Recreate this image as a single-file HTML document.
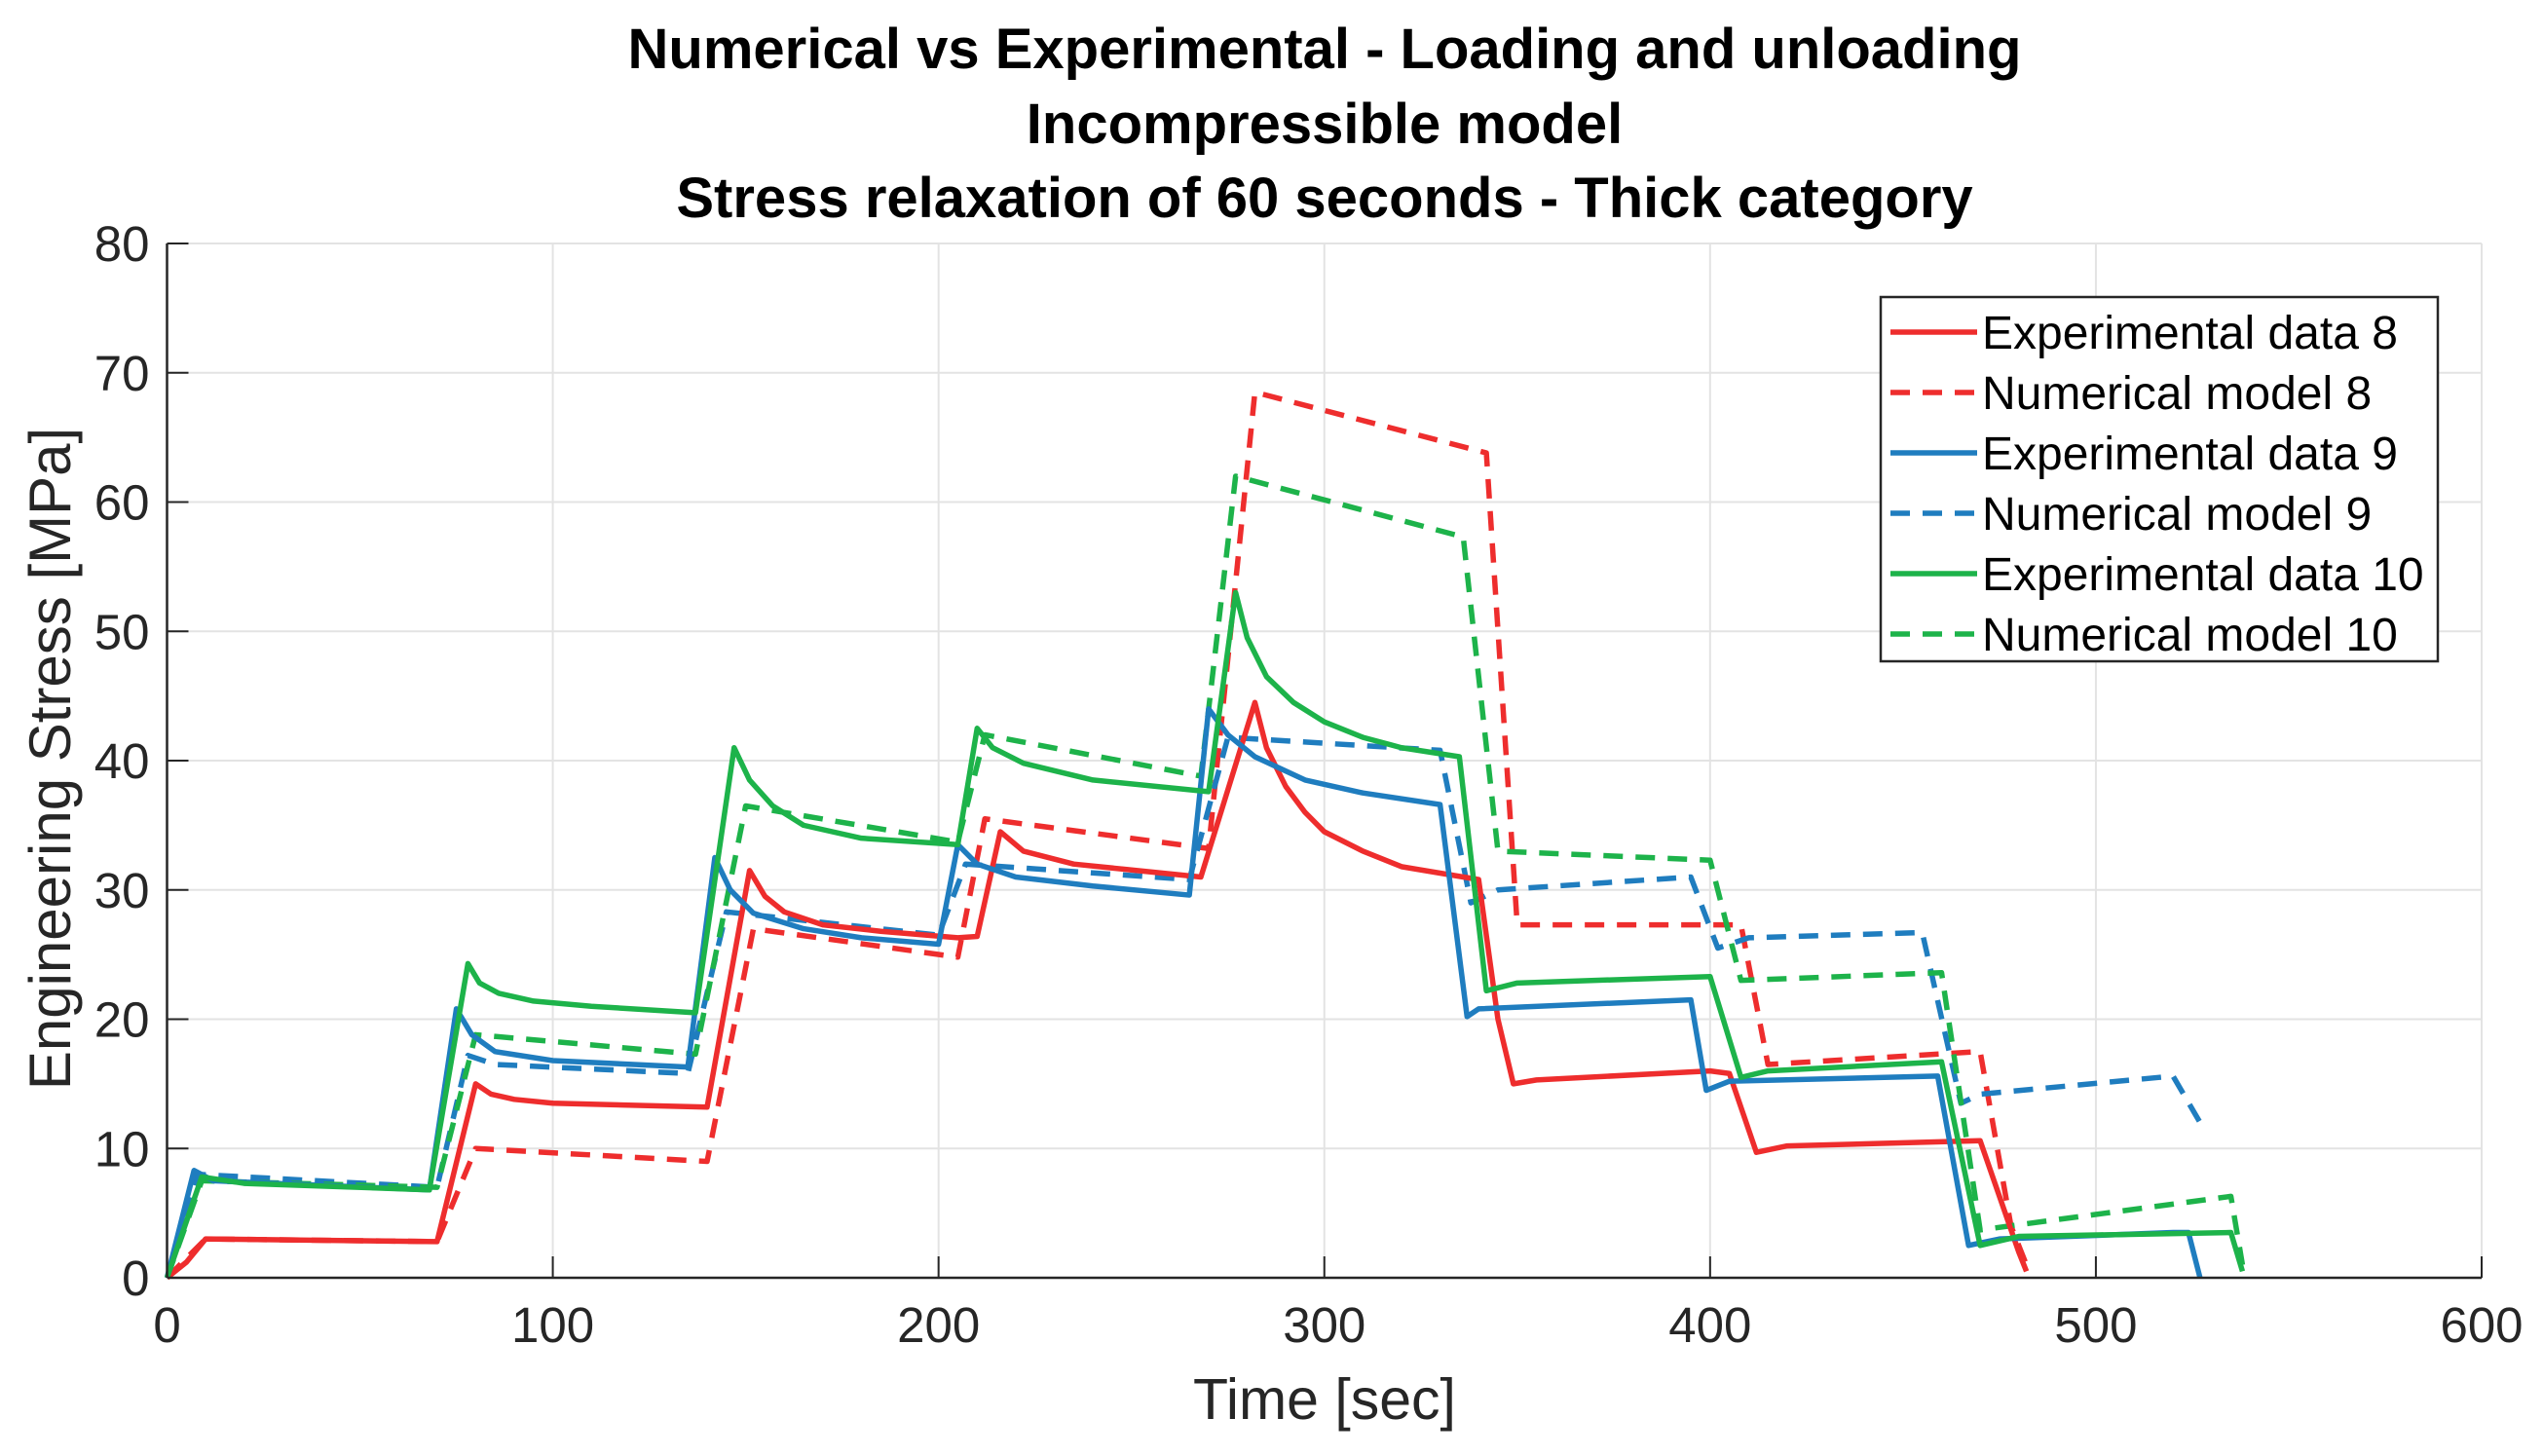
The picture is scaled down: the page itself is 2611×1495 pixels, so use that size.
<!DOCTYPE html>
<html><head><meta charset="utf-8"><style>
html,body{margin:0;padding:0;background:#fff;}
svg{display:block;font-family:"Liberation Sans",Arial,sans-serif;}
</style></head><body>
<svg id="chart" width="2611" height="1495" viewBox="0 0 2611 1495" xmlns="http://www.w3.org/2000/svg">
<rect width="2611" height="1495" fill="#fff"/>
<g font-weight="bold" font-size="58" text-anchor="middle" fill="#000">
<text x="1360" y="70">Numerical vs Experimental - Loading and unloading</text>
<text x="1360" y="147">Incompressible model</text>
<text x="1360" y="223">Stress relaxation of 60 seconds - Thick category</text>
</g>
<g id="grid"></g>
<g id="series"></g>
<g id="axes"></g>
<text x="1360" y="1457" font-size="59" text-anchor="middle" fill="#262626">Time [sec]</text>
<text transform="translate(72,779) rotate(-90)" font-size="60" text-anchor="middle" fill="#262626">Engineering Stress [MPa]</text>
<g id="legend"></g>
</svg>
<script>
const xTicks=[0,100,200,300,400,500,600];
const yTicks=[0,10,20,30,40,50,60,70,80];
const exp8T=[0,5,10,70,80,84,90,100,140,151,155,160,170,185,205,210,216,222,235,268,282,285,290,295,300,310,320,340,345,349,355,400,405,412,420,470,480,482];
const exp8V=[0,1.2,3,2.8,15,14.2,13.8,13.5,13.2,31.5,29.5,28.3,27.3,26.8,26.3,26.4,34.5,33,32,31,44.5,41,38,36,34.5,33,31.8,30.8,20,15,15.3,16,15.8,9.7,10.2,10.6,2,0.5];
const num8T=[0,10,70,80,140,152,205,212,270,282,342,350,408,415,470,478,482];
const num8V=[0,3,2.8,10,9,27,24.8,35.5,33.2,68.5,63.8,27.3,27.3,16.5,17.5,4,1];
const exp9T=[0,7,12,68,75,79,85,100,135,142,146,152,165,180,200,205,210,220,240,265,270,275,282,295,310,330,337,340,395,399,405,459,467,475,520,524,527];
const exp9V=[0,8.3,7.5,6.8,20.8,18.8,17.5,16.8,16.3,32.5,30,28.2,27,26.3,25.8,33.5,32,31,30.3,29.6,44,42,40.3,38.5,37.5,36.6,20.2,20.8,21.5,14.5,15.2,15.6,2.5,3,3.5,3.5,0];
const num9T=[0,8,70,78,85,135,145,200,207,265,275,330,338,345,395,402,410,455,465,470,520,528];
const num9V=[0,8,7,17.2,16.5,15.8,28.3,26.5,32,30.8,41.8,40.8,29,30,31,25.5,26.3,26.7,13.5,14.2,15.6,11.5];
const exp10T=[0,9,20,68,78,81,86,95,110,137,147,151,157,165,180,205,210,214,222,240,270,277,280,285,292,300,310,320,335,342,350,400,408,415,460,470,480,535,538];
const exp10V=[0,7.8,7.3,6.8,24.3,22.8,22,21.4,21,20.5,41,38.5,36.5,35,34,33.5,42.5,41,39.8,38.5,37.6,53,49.5,46.5,44.5,43,41.8,41,40.3,22.2,22.8,23.3,15.5,16,16.7,2.5,3.2,3.5,0.5];
const num10T=[0,9,70,80,137,150,205,212,268,277,336,345,400,408,460,470,535,538];
const num10V=[0,7.5,7,18.8,17.3,36.5,33.7,42,38.8,62,57.3,33,32.3,23,23.6,3.7,6.3,1];
const seriesNames=["Experimental data 8","Numerical model 8","Experimental data 9","Numerical model 9","Experimental data 10","Numerical model 10"];

const NS="http://www.w3.org/2000/svg";
const X0=171.5,X1=2548,Y0=1312,Y1=250;
function xs(t){return X0+(t-0)/(600-0)*(X1-X0);}
function ys(v){return Y0-(v-0)/(80-0)*(Y0-Y1);}
function mk(tag,attrs,parent){const e=document.createElementNS(NS,tag);for(const k in attrs)e.setAttribute(k,attrs[k]);parent.appendChild(e);return e;}
const grid=document.getElementById('grid'),axes=document.getElementById('axes'),sg=document.getElementById('series'),lg=document.getElementById('legend');
mk('rect',{x:X0,y:Y1,width:X1-X0,height:Y0-Y1,fill:'#fff'},grid);
xTicks.forEach(t=>{
  const l=mk('line',{x1:xs(t),x2:xs(t),y1:Y1,y2:Y0,stroke:'#e3e3e3','stroke-width':2},grid);
  
  
  const tk=mk('line',{x1:xs(t),x2:xs(t),y1:Y0,y2:Y0-22,stroke:'#262626','stroke-width':2},axes);
  
  
  const tx=mk('text',{x:xs(t),y:Y0+66,'font-size':51,'text-anchor':'middle',fill:'#262626'},axes);
  tx.textContent=t;
  
  
});
yTicks.forEach(v=>{
  const l=mk('line',{x1:X0,x2:X1,y1:ys(v),y2:ys(v),stroke:'#e3e3e3','stroke-width':2},grid);
  
  
  const tk=mk('line',{x1:X0,x2:X0+22,y1:ys(v),y2:ys(v),stroke:'#262626','stroke-width':2},axes);
  
  
  const tx=mk('text',{x:X0-18,y:ys(v)+18,'font-size':51,'text-anchor':'end',fill:'#262626'},axes);
  tx.textContent=v;
  
  
});
const ax1=mk('line',{x1:X0,x2:X0,y1:Y1,y2:Y0,stroke:'#262626','stroke-width':2.5},axes);


const ax2=mk('line',{x1:X0,x2:X1,y1:Y0,y2:Y0,stroke:'#262626','stroke-width':2.5},axes);



const defs=[
 [exp8T,exp8V,'#ee2d2d',false,'exp-data-8-line'],
 [num8T,num8V,'#ee2d2d',true,'num-model-8-line'],
 [exp9T,exp9V,'#1f7dbf',false,'exp-data-9-line'],
 [num9T,num9V,'#1f7dbf',true,'num-model-9-line'],
 [exp10T,exp10V,'#1db34a',false,'exp-data-10-line'],
 [num10T,num10V,'#1db34a',true,'num-model-10-line']];
const order=[1,3,5,0,2,4];
order.forEach(i=>{
  const [T,V,c,d,n]=defs[i];
  const p=mk('polyline',{points:T.map((t,j)=>xs(t)+','+ys(V[j])).join(' '),fill:'none',stroke:c,'stroke-width':5.5,'stroke-linejoin':'round'},sg);
  if(d)p.setAttribute('stroke-dasharray','20 13');
  
  
});
mk('rect',{x:1931,y:305,width:572,height:374,fill:'#fff',stroke:'#262626','stroke-width':2.5},lg);
defs.forEach((d,i)=>{
  const y=341+i*62;
  const l=mk('line',{x1:1941,x2:2030,y1:y,y2:y,stroke:d[2],'stroke-width':5.5},lg);
  if(d[3])l.setAttribute('stroke-dasharray','20 13');
  
  
  const t=mk('text',{x:2035,y:y+17,'font-size':48,fill:'#000'},lg);
  t.textContent=seriesNames[i];
  
  
});
</script>
</body></html>
